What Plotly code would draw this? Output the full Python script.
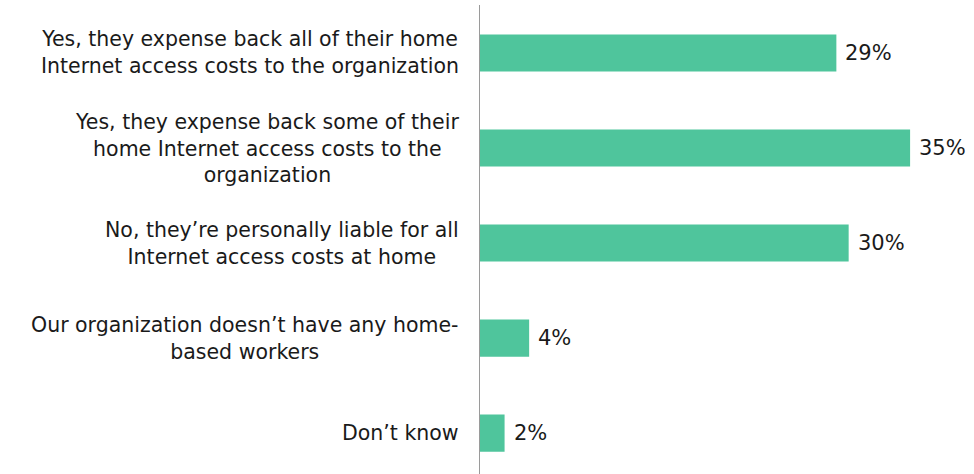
import plotly.graph_objects as go

# Survey responses about home Internet access costs
categories = [
    "Yes, they expense back all of their home<br>Internet access costs to the organization",
    "Yes, they expense back some of their<br>home Internet access costs to the<br>organization",
    "No, they\u2019re personally liable for all<br>Internet access costs at home",
    "Our organization doesn\u2019t have any home-<br>based workers",
    "Don\u2019t know",
]
values = [29, 35, 30, 4, 2]
value_labels = ["29%", "35%", "30%", "4%", "2%"]

bar_color = "#4fc59c"
text_color = "#1a1a1a"
font_family = "DejaVu Sans, Verdana, sans-serif"

ids = list(range(len(categories)))

fig = go.Figure(
    go.Bar(
        x=values,
        y=ids,
        orientation="h",
        marker=dict(color=bar_color, line=dict(width=0)),
        width=0.39,
        hoverinfo="skip",
    )
)

# Category labels, centred line by line, right edge just left of the axis
for i, label in zip(ids, categories):
    fig.add_annotation(
        x=-19 / 494,
        xref="paper",
        y=i,
        yref="y",
        text=label,
        showarrow=False,
        xanchor="right",
        yanchor="middle",
        align="center",
        font=dict(size=20.5, color=text_color, family=font_family),
    )

# Value labels just past the end of each bar
for i, v, lab in zip(ids, values, value_labels):
    fig.add_annotation(
        x=v,
        xref="x",
        y=i,
        yref="y",
        text=lab,
        showarrow=False,
        xanchor="left",
        yanchor="middle",
        xshift=7,
        font=dict(size=21, color=text_color, family=font_family),
    )

fig.update_layout(
    width=974,
    height=474,
    margin=dict(l=480, r=0, t=5, b=0),
    paper_bgcolor="white",
    plot_bgcolor="white",
    showlegend=False,
    xaxis=dict(
        range=[0, 40.2],
        showgrid=False,
        zeroline=False,
        showticklabels=False,
        showline=False,
        fixedrange=True,
    ),
    yaxis=dict(
        range=[4.43, -0.505],
        showgrid=False,
        zeroline=False,
        showticklabels=False,
        showline=True,
        linecolor="#9a9a9a",
        linewidth=1,
        ticks="",
        fixedrange=True,
    ),
)

fig.write_html("out.html")
